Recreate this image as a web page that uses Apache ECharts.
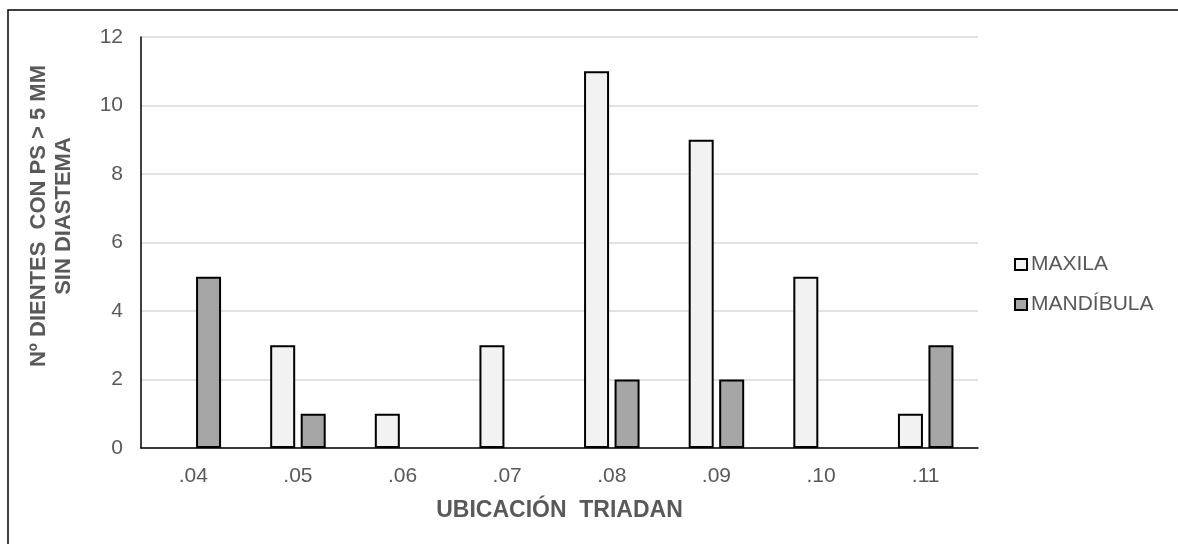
<!DOCTYPE html>
<html>
<head>
<meta charset="utf-8">
<script src="https://cdn.jsdelivr.net/npm/echarts@6/dist/echarts.min.js"></script>
<style>
  html, body { margin: 0; padding: 0; background: #fff; }
  #chart { width: 1178px; height: 544px; }
</style>
</head>
<body>
<div id="chart"></div>
<script>
// Triadan positions on the x axis
const categories = ['.04', '.05', '.06', '.07', '.08', '.09', '.10', '.11'];
// Teeth counts per jaw
const maxila = [0, 3, 1, 3, 11, 9, 5, 1];
const mandibula = [5, 1, 0, 0, 2, 2, 0, 3];
const seriesNames = ['MAXILA', 'MANDÍBULA'];
const yTicks = { min: 0, max: 12, interval: 2 };

const FONT = '"Liberation Sans", Arial, sans-serif';
const TEXT = '#595959';

// Zero counts get no outline so no flat stub is drawn on the baseline
const toBarData = vals => vals.map(v => (v === 0 ? { value: v, itemStyle: { borderWidth: 0, opacity: 0 } } : v));

const chart = echarts.init(document.getElementById('chart'), null, { renderer: 'canvas' });

chart.setOption({
  animation: false,
  backgroundColor: '#ffffff',
  textStyle: { fontFamily: FONT },
  grid: { left: 141, right: 200, top: 37, bottom: 96, containLabel: false },
  legend: {
    orient: 'vertical',
    left: 1009,
    top: 249,
    itemWidth: 12,
    itemHeight: 11,
    itemGap: 19,
    icon: 'rect',
    textStyle: { color: TEXT, fontSize: 21, fontFamily: FONT, padding: [0, 0, 0, -1] },
    data: seriesNames
  },
  xAxis: {
    type: 'category',
    data: categories,
    axisLine: { lineStyle: { color: '#000', width: 1.5 } },
    axisTick: { show: false },
    axisLabel: { color: TEXT, fontSize: 21, margin: 18, fontFamily: FONT },
    name: 'UBICACIÓN  TRIADAN',
    nameLocation: 'middle',
    nameGap: 51,
    nameTextStyle: { color: TEXT, fontSize: 23, fontWeight: 'bold', fontFamily: FONT }
  },
  yAxis: {
    type: 'value',
    min: yTicks.min,
    max: yTicks.max,
    interval: yTicks.interval,
    axisLine: { show: true, lineStyle: { color: '#000', width: 1.5 } },
    axisTick: { show: false },
    axisLabel: { color: TEXT, fontSize: 21, margin: 18, fontFamily: FONT },
    splitLine: { lineStyle: { color: '#d9d9d9', width: 1.5 } }
  },
  series: [
    {
      name: seriesNames[0],
      type: 'bar',
      data: toBarData(maxila),
      barWidth: 25,
      barGap: '22%',
      itemStyle: { color: '#f2f2f2', borderColor: '#000', borderWidth: 2 }
    },
    {
      name: seriesNames[1],
      type: 'bar',
      data: toBarData(mandibula),
      barWidth: 25,
      barGap: '22%',
      itemStyle: { color: '#a6a6a6', borderColor: '#000', borderWidth: 2 }
    }
  ],
  graphic: [
    {
      type: 'rect',
      silent: true,
      shape: { x: 8, y: 10, width: 1200, height: 600 },
      style: { fill: 'none', stroke: '#000', lineWidth: 1.5 },
      z: 100
    },
    {
      type: 'text',
      x: 51,
      y: 216,
      rotation: Math.PI / 2,
      silent: true,
      style: {
        text: 'Nº DIENTES  CON PS > 5 MM\nSIN DIASTEMA',
        fill: TEXT,
        font: 'bold 22px ' + FONT,
        align: 'center',
        verticalAlign: 'middle',
        lineHeight: 25
      }
    }
  ]
});
</script>
</body>
</html>
